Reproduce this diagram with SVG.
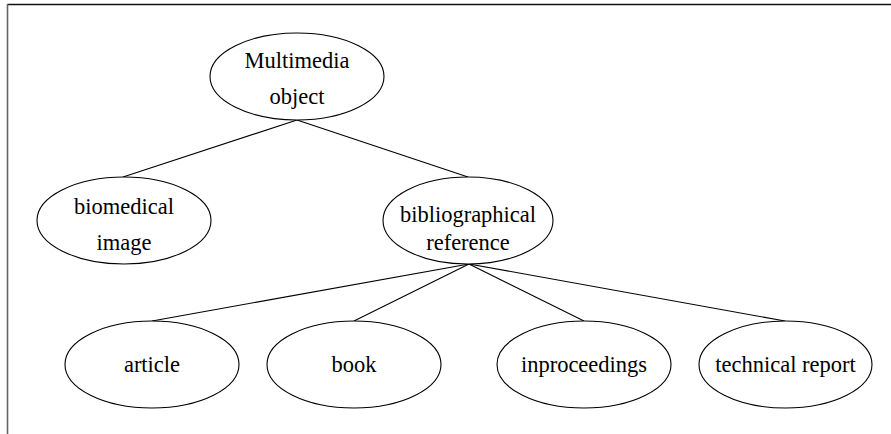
<svg xmlns="http://www.w3.org/2000/svg" width="891" height="434" viewBox="0 0 891 434">
<style>
.n ellipse{fill:#fff;stroke:#000;stroke-width:1.1}
.n text{font-family:"Liberation Serif","Times New Roman",serif;font-size:22.5px;fill:#000;text-anchor:middle}
.e line{stroke:#000;stroke-width:1.1}
</style>
<rect width="891" height="434" fill="#fff"/>
<line x1="7.5" y1="4.5" x2="891" y2="4.5" stroke="#111" stroke-width="1.4"/>
<line x1="7.5" y1="4" x2="7.5" y2="434" stroke="#666" stroke-width="1.6"/>
<g id="connectors" class="e">
<line x1="297" y1="120" x2="123" y2="177"/>
<line x1="297" y1="120" x2="468" y2="177"/>
<line x1="469" y1="264" x2="152" y2="321"/>
<line x1="469" y1="264" x2="354" y2="321"/>
<line x1="469" y1="264" x2="584" y2="321"/>
<line x1="469" y1="264" x2="785" y2="321"/>
</g>
<g id="multimedia" class="n">
<ellipse cx="297" cy="76.5" rx="87" ry="43.5"/>
<text x="297" y="68">Multimedia</text>
<text x="297" y="104">object</text>
</g>
<g id="biomedical" class="n">
<ellipse cx="124" cy="220.5" rx="87" ry="43.5"/>
<text x="124" y="214">biomedical</text>
<text x="124" y="250">image</text>
</g>
<g id="bibliographical" class="n">
<ellipse cx="468" cy="220.5" rx="85" ry="43.5"/>
<text x="468" y="221.5">bibliographical</text>
<text x="468" y="250">reference</text>
</g>
<g id="article" class="n">
<ellipse cx="152" cy="364.5" rx="87" ry="43.5"/>
<text x="152" y="372">article</text>
</g>
<g id="book" class="n">
<ellipse cx="354" cy="364.5" rx="87" ry="43.5"/>
<text x="354" y="372">book</text>
</g>
<g id="inproceedings" class="n">
<ellipse cx="584" cy="364.5" rx="87" ry="43.5"/>
<text x="584" y="372">inproceedings</text>
</g>
<g id="technical" class="n">
<ellipse cx="785.5" cy="364.5" rx="86.5" ry="43.5"/>
<text x="785.5" y="372">technical report</text>
</g>
</svg>
